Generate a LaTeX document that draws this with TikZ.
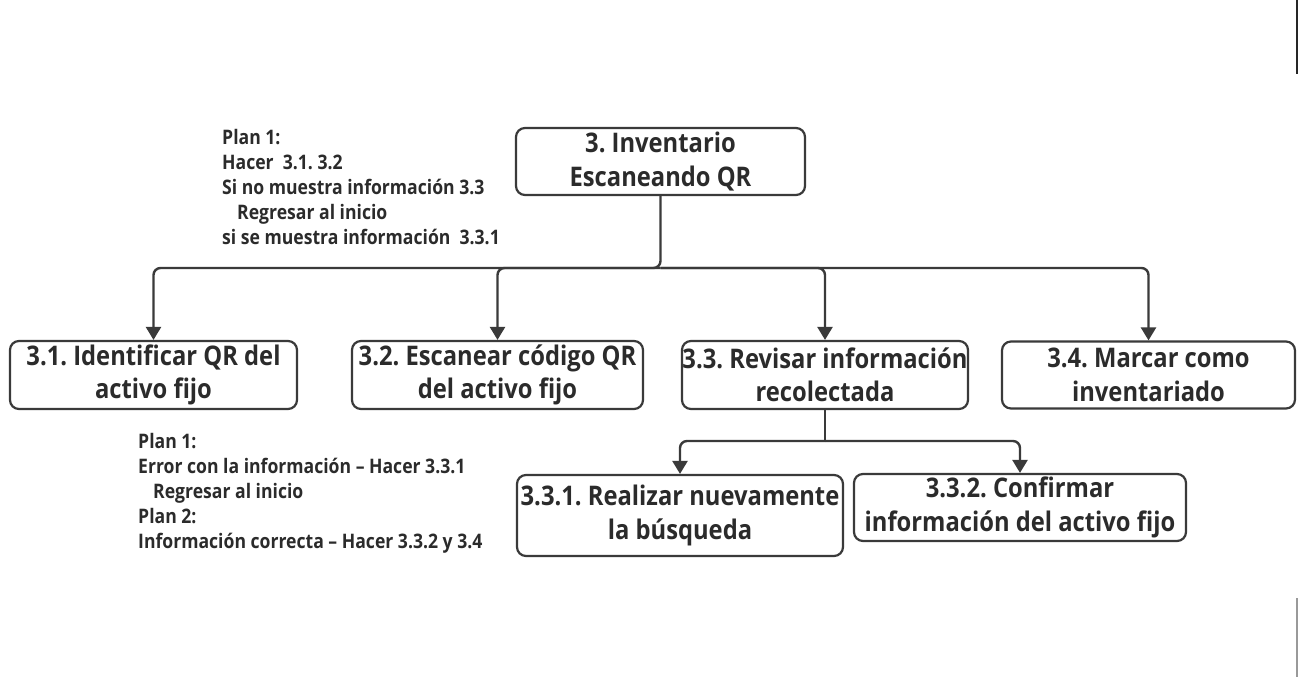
\documentclass[tikz,border=0pt]{standalone}
\usepackage{fontspec}
\setmainfont{Open Sans}[FakeStretch=0.88]
\usetikzlibrary{arrows.meta}
\definecolor{ln}{HTML}{3A3A3A}
\definecolor{tx}{HTML}{2B2B2B}
\tikzset{
  box/.style={draw=ln, line width=2.2pt, rounded corners=9pt, align=center, text=tx,
    font=\fontsize{27}{33.5}\selectfont\bfseries\frenchspacing, inner sep=0pt},
  conn/.style={draw=ln, line width=2.4pt, rounded corners=7pt},
  arr/.style={conn, -{Triangle[length=13pt,width=15pt]}},
  plan/.style={align=left, anchor=north west, text=tx, inner sep=0pt,
    font=\fontsize{20}{25}\selectfont\bfseries\frenchspacing}
}
\begin{document}
\begin{tikzpicture}[x=1pt,y=-1pt]
\useasboundingbox (0,0) rectangle (1299,677);
\fill[white] (0,0) rectangle (1299,677);
% boxes
\node[box, minimum width=289pt, minimum height=67pt] (r) at (660.5,161.5) {3. Inventario\\Escaneando QR};
\node[box, minimum width=287pt, minimum height=68pt] (a) at (153.5,375) {3.1. Identificar QR del\\activo fijo};
\node[box, minimum width=291pt, minimum height=68pt] (b) at (497.5,375) {3.2. Escanear código QR\\del activo fijo};
\node[box, minimum width=286pt, minimum height=68pt] (c) at (825,375) {3.3. Revisar información\\recolectada};
\node[box, minimum width=293pt, minimum height=67pt] (d) at (1148.5,375) {3.4. Marcar como\\inventariado};
\node[box, minimum width=326pt, minimum height=81pt] (e) at (680,515.5) {3.3.1. Realizar nuevamente\\la búsqueda};
\node[box, minimum width=332pt, minimum height=67pt] (f) at (1020,507.5) {3.3.2. Confirmar\\información del activo fijo};
% connectors
\coordinate (j1) at (660.5,268);
\draw[arr] (r.south) -- (j1) -| (a.north);
\draw[arr] (j1) -| (b.north);
\draw[arr] (j1) -| (c.north);
\draw[arr] (j1) -| (d.north);
\coordinate (j2) at (825,441);
\draw[conn] (c.south) -- (j2);
\draw[arr] (j2) -| (e.north);
\draw[arr] (j2) -| (f.north);
% plan texts
\node[plan] (p1) at (222,129) {Plan 1:\\Hacer\ \ 3.1. 3.2\\Si no muestra información 3.3\\\hspace*{15pt}Regresar al inicio\\si se muestra información\ \ 3.3.1};
\node[plan] (p2) at (138,433) {Plan 1:\\Error con la información -- Hacer 3.3.1\\\hspace*{15pt}Regresar al inicio\\Plan 2:\\Información correcta -- Hacer 3.3.2 y 3.4};
% edge artifacts
\draw[line width=2pt, draw=black!85] (1297,0) -- (1297,74);
\draw[line width=2pt, draw=black!40] (1297,598) -- (1297,677);
\end{tikzpicture}
\end{document}
